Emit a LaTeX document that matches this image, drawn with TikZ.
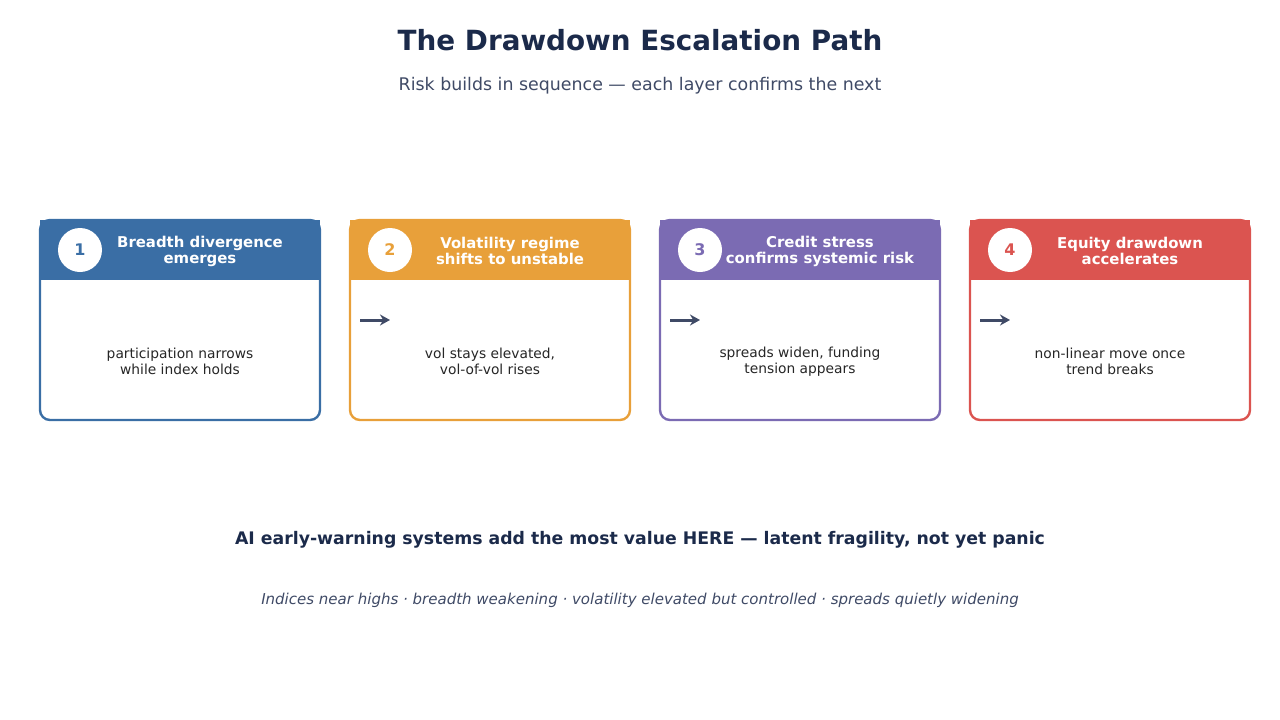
\documentclass[tikz,border=0pt]{standalone}
\usepackage{fontspec}
\setmainfont{DejaVu Sans}
\usetikzlibrary{arrows.meta,positioning,calc}
\definecolor{inkdark}{HTML}{1B2A4A}
\definecolor{inkgray}{HTML}{3F4A66}
\definecolor{stepblue}{HTML}{3A6EA5}
\definecolor{steporange}{HTML}{E8A03A}
\definecolor{steppurple}{HTML}{7B6BB3}
\definecolor{stepred}{HTML}{DB5450}
\begin{document}
\begin{tikzpicture}[x=1pt, y=-1pt, >={Stealth[length=10pt,width=11pt]},
	card/.style={draw=#1, line width=2.4pt, rounded corners=10pt, minimum width=280pt, minimum height=200pt, outer sep=0pt, inner sep=0pt},
	badge/.style={circle, fill=white, minimum size=44pt, inner sep=0pt, text=#1, font=\fontsize{16}{18}\selectfont\bfseries},
	headtxt/.style={text=white, align=center, font=\fontsize{14.9}{16}\selectfont\bfseries},
	bodytxt/.style={text=black!85, align=center, font=\fontsize{13.8}{16}\selectfont},
	flow/.style={->, draw=inkgray, line width=3pt}]
	\useasboundingbox (0,0) rectangle (1280,720);
	% title block
	\node[text=inkdark, font=\fontsize{27.8}{30}\selectfont\bfseries] (T) at (640,40) {The Drawdown Escalation Path};
	\node[text=inkgray, font=\fontsize{17.4}{18}\selectfont] (S) at (640,86) {Risk builds in sequence — each layer confirms the next};
	% cards
	\node[card=stepblue] (C1) at (180,320) {};
	\fill[stepblue] (C1.north west) rectangle ($(C1.north east)+(0,60)$);
	\node[badge=stepblue] (N1) at ($(C1.north west)+(40,30)$) {1};
	\node[headtxt] (H1) at ($(C1.north)+(20,31)$) {Breadth divergence\\emerges};
	\node[bodytxt] (B1) at ($(C1.center)+(0,41)$) {participation narrows\\while index holds};
	\node[card=steporange] (C2) at (490,320) {};
	\fill[steporange] (C2.north west) rectangle ($(C2.north east)+(0,60)$);
	\node[badge=steporange] (N2) at ($(C2.north west)+(40,30)$) {2};
	\node[headtxt] (H2) at ($(C2.north)+(20,31)$) {Volatility regime\\shifts to unstable};
	\node[bodytxt] (B2) at ($(C2.center)+(0,41)$) {vol stays elevated,\\vol-of-vol rises};
	\node[card=steppurple] (C3) at (800,320) {};
	\fill[steppurple] (C3.north west) rectangle ($(C3.north east)+(0,60)$);
	\node[badge=steppurple] (N3) at ($(C3.north west)+(40,30)$) {3};
	\node[headtxt] (H3) at ($(C3.north)+(20,31)$) {Credit stress\\confirms systemic risk};
	\node[bodytxt] (B3) at ($(C3.center)+(0,42)$) {spreads widen, funding\\tension appears};
	\node[card=stepred] (C4) at (1110,320) {};
	\fill[stepred] (C4.north west) rectangle ($(C4.north east)+(0,60)$);
	\node[badge=stepred] (N4) at ($(C4.north west)+(40,30)$) {4};
	\node[headtxt] (H4) at ($(C4.north)+(20,31)$) {Equity drawdown\\accelerates};
	\node[bodytxt] (B4) at ($(C4.center)+(0,41)$) {non-linear move once\\trend breaks};
	% step arrows
	\coordinate (A2) at ($(C2.west)+(10,0)$);
	\coordinate (A3) at ($(C3.west)+(10,0)$);
	\coordinate (A4) at ($(C4.west)+(10,0)$);
	\draw[flow] (A2) -- ++(30,0);
	\draw[flow] (A3) -- ++(30,0);
	\draw[flow] (A4) -- ++(30,0);
	% footer
	\node[text=inkdark, font=\fontsize{17.3}{20}\selectfont\bfseries] (F1) at (640,540) {AI early-warning systems add the most value HERE — latent fragility, not yet panic};
	\node[text=inkgray, font=\fontsize{15}{18}\selectfont\itshape] (F2) at (640,600) {Indices near highs · breadth weakening · volatility elevated but controlled · spreads quietly widening};
\end{tikzpicture}
\end{document}
